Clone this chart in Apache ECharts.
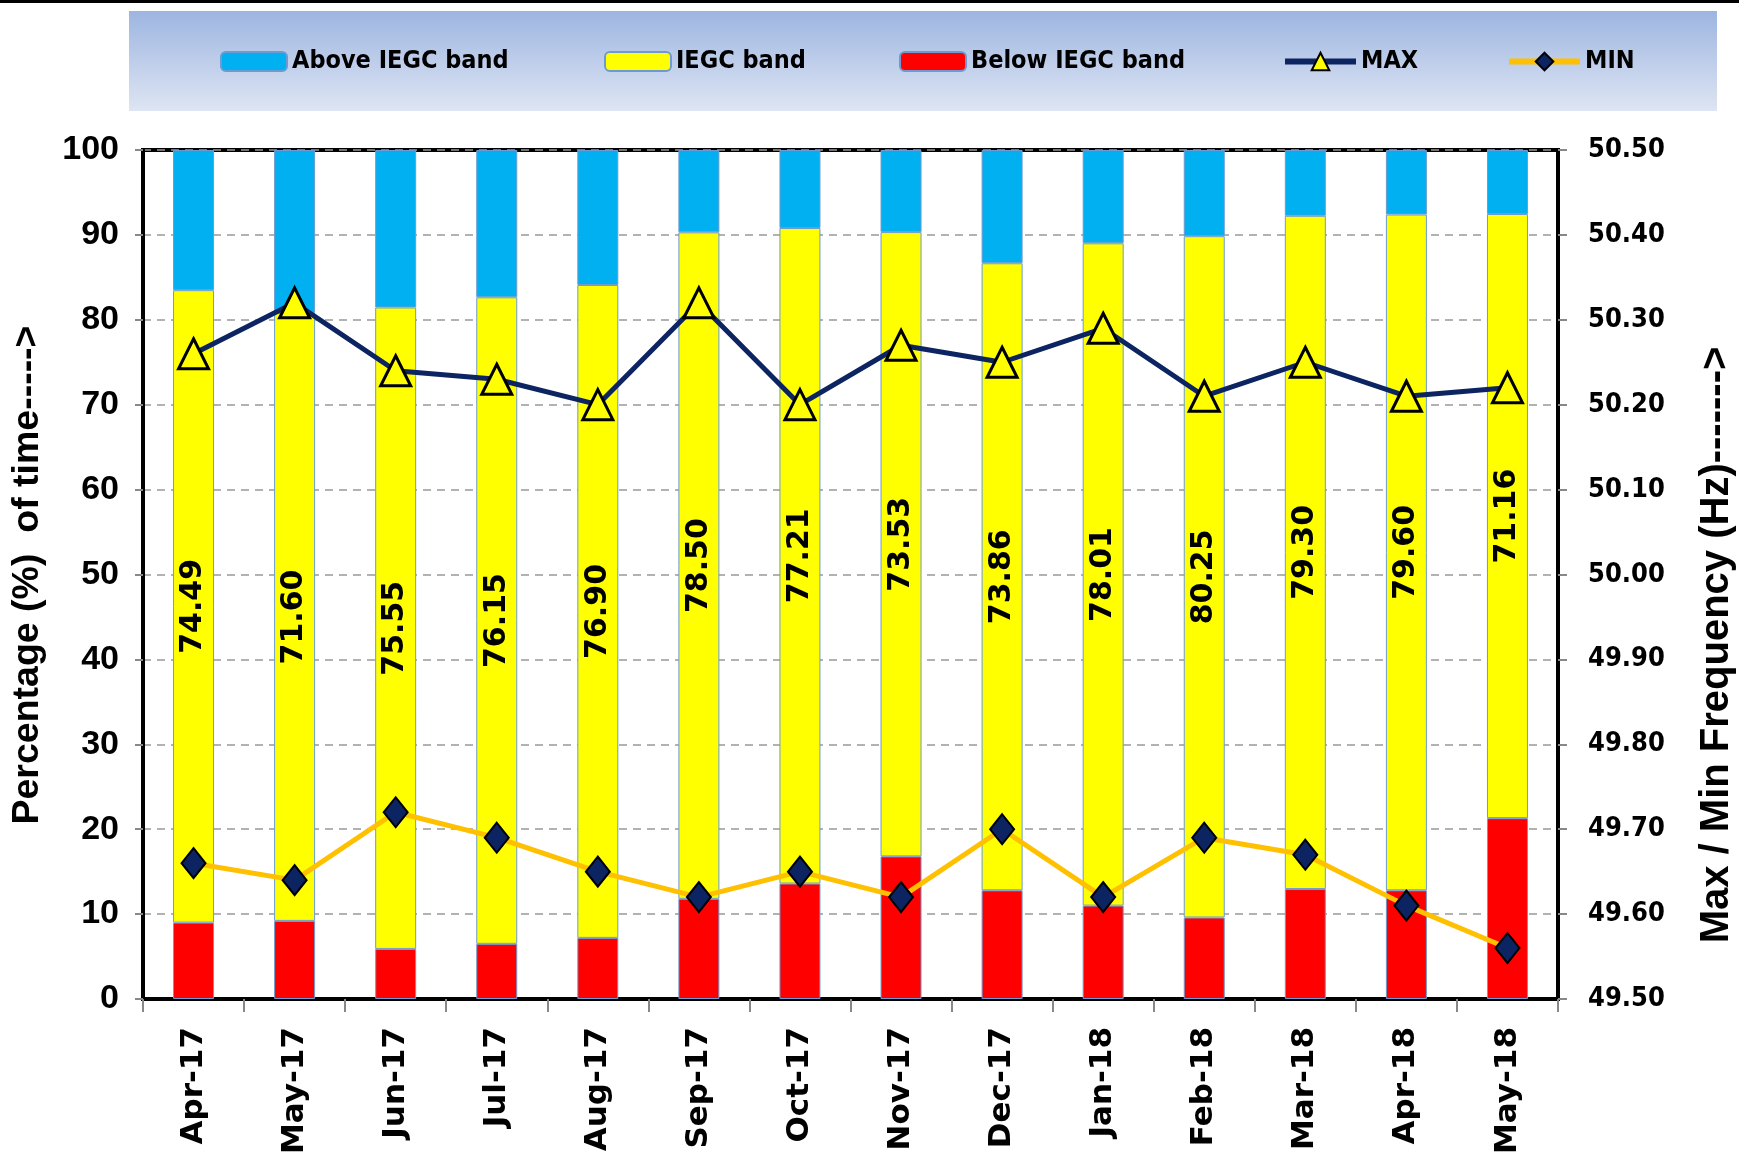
<!DOCTYPE html>
<html>
<head>
<meta charset="utf-8">
<script src="https://cdn.jsdelivr.net/npm/echarts@6/dist/echarts.min.js"></script>
<style>
html,body{margin:0;padding:0;background:#fff;}
#chart{width:1739px;height:1159px;}
</style>
</head>
<body>
<div id="chart"></div>
<script>
var categories = ['Apr-17','May-17','Jun-17','Jul-17','Aug-17','Sep-17','Oct-17','Nov-17','Dec-17','Jan-18','Feb-18','Mar-18','Apr-18','May-18'];
var belowBand = [9.0, 9.2, 5.9, 6.5, 7.2, 11.8, 13.6, 16.8, 12.8, 11.0, 9.6, 12.95, 12.8, 21.3];
var iegcBand = [74.49, 71.60, 75.55, 76.15, 76.90, 78.50, 77.21, 73.53, 73.86, 78.01, 80.25, 79.30, 79.60, 71.16];
var aboveBand = [16.51, 19.2, 18.55, 17.35, 15.9, 9.7, 9.19, 9.67, 13.34, 10.99, 10.15, 7.75, 7.6, 7.54];
var maxFreq = [50.26, 50.32, 50.24, 50.23, 50.20, 50.32, 50.20, 50.27, 50.25, 50.29, 50.21, 50.25, 50.21, 50.22];
var minFreq = [49.66, 49.64, 49.72, 49.69, 49.65, 49.62, 49.65, 49.62, 49.70, 49.62, 49.69, 49.67, 49.61, 49.56];
var leftTicks = {min: 0, max: 100, interval: 10};
var rightTicks = {min: 49.5, max: 50.5, interval: 0.1};

var chart = echarts.init(document.getElementById('chart'));
var legendText = {fontFamily: 'DejaVu Sans Condensed', fontWeight: 'bold', fontSize: 25, color: '#000'};
function mkLegend(name, left, w, h, line) {
  var l = {data: [name], left: left, top: 49, itemWidth: w, itemHeight: h, itemGap: 0, padding: 0,
    textStyle: legendText, selectedMode: false};
  if (line) { l.lineStyle = {width: 6}; }
  return l;
}
var barBorder = {borderColor: '#6d9bd1', borderWidth: 1};
chart.setOption({
  animation: false,
  backgroundColor: '#fff',
  graphic: [
    {type: 'rect', z: -10, shape: {x: 0, y: 0, width: 1739, height: 3}, style: {fill: '#000'}},
    {type: 'rect', z: -10, shape: {x: 129, y: 11, width: 1588, height: 100},
      style: {fill: new echarts.graphic.LinearGradient(0, 0, 0, 1, [
        {offset: 0, color: '#9db5e1'}, {offset: 1, color: '#dee5f3'}])}},
    {type: 'text', x: 28, y: 575, rotation: Math.PI / 2,
      style: {text: 'Percentage (%)  of time----->', fontFamily: 'Liberation Sans', fontWeight: 'bold',
        fontSize: 37.5, fill: '#000', align: 'center', verticalAlign: 'middle'}},
    {type: 'text', x: 1717, y: 645, rotation: Math.PI / 2,
      style: {text: 'Max / Min Frequency (Hz)------->', fontFamily: 'Liberation Sans', fontWeight: 'bold',
        fontSize: 40, fill: '#000', align: 'center', verticalAlign: 'middle'}}
  ],
  legend: [
    mkLegend('Above IEGC band', 220, 66, 19),
    mkLegend('IEGC band', 604, 66, 19),
    mkLegend('Below IEGC band', 899, 66, 19),
    mkLegend('MAX', 1282, 71, 22, true),
    mkLegend('MIN', 1506, 71, 22, true)
  ],
  grid: {left: 143, right: 181, top: 150, bottom: 160, show: true, borderColor: '#000', borderWidth: 4, backgroundColor: 'transparent'},
  xAxis: {
    type: 'category', data: categories,
    axisLine: {lineStyle: {color: '#000', width: 4}},
    axisTick: {show: true, length: 13, lineStyle: {color: '#888', width: 2}},
    axisLabel: {rotate: 90, margin: 28, fontFamily: 'DejaVu Sans', fontWeight: 'bold', fontSize: 31, color: '#000'}
  },
  yAxis: [
    {type: 'value', min: leftTicks.min, max: leftTicks.max, interval: leftTicks.interval,
      axisLine: {show: true, lineStyle: {color: '#000', width: 4}},
      axisTick: {show: true, length: 8, lineStyle: {color: '#888', width: 2}},
      splitLine: {show: true, lineStyle: {color: '#999', width: 1.5, type: [8, 6]}},
      axisLabel: {margin: 24, fontFamily: 'Liberation Sans', fontWeight: 'bold', fontSize: 34, color: '#000'}},
    {type: 'value', min: rightTicks.min, max: rightTicks.max, interval: rightTicks.interval, position: 'right',
      axisLine: {show: true, lineStyle: {color: '#000', width: 4}},
      axisTick: {show: true, length: 9, lineStyle: {color: '#888', width: 2}},
      splitLine: {show: false},
      axisLabel: {margin: 30, fontFamily: 'DejaVu Sans Condensed', fontWeight: 'bold', fontSize: 27, color: '#000',
        formatter: function (v) { return v.toFixed(2); }}}
  ],
  series: [
    {name: 'Below IEGC band', type: 'bar', stack: 'pct', barWidth: 41, data: belowBand,
      itemStyle: Object.assign({color: '#ff0000'}, barBorder)},
    {name: 'IEGC band', type: 'bar', stack: 'pct', barWidth: 41, data: iegcBand,
      itemStyle: Object.assign({color: '#ffff00'}, barBorder),
      label: {show: true, position: 'inside', rotate: 90, fontFamily: 'DejaVu Sans', fontWeight: 'bold', fontSize: 30, color: '#000',
        formatter: function (p) { return p.value.toFixed(2); }}},
    {name: 'Above IEGC band', type: 'bar', stack: 'pct', barWidth: 41, data: aboveBand,
      itemStyle: Object.assign({color: '#00b0f0'}, barBorder)},
    {name: 'MAX', type: 'line', yAxisIndex: 1, data: maxFreq, z: 5,
      lineStyle: {color: '#0c2461', width: 5},
      symbol: 'triangle', symbolSize: [30, 30],
      itemStyle: {color: '#ffff00', borderColor: '#000', borderWidth: 3}},
    {name: 'MIN', type: 'line', yAxisIndex: 1, data: minFreq, z: 6,
      lineStyle: {color: '#ffc000', width: 5},
      symbol: 'diamond', symbolSize: [24, 30],
      itemStyle: {color: '#0c2461', borderColor: '#000', borderWidth: 2}}
  ]
});
</script>
</body>
</html>
